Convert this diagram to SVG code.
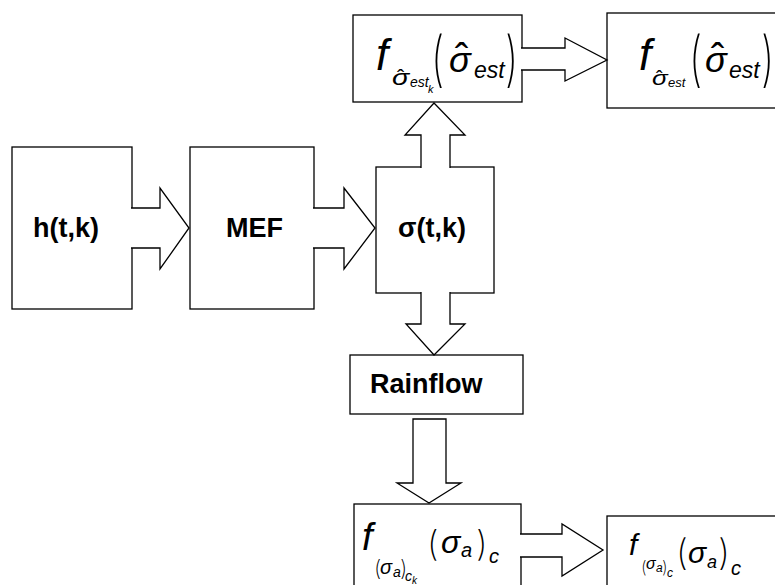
<svg xmlns="http://www.w3.org/2000/svg" width="775" height="585" viewBox="0 0 775 585">
  <style>
    .box { fill: #fff; stroke: #000; stroke-width: 1.3; }
    .arw { fill: #fff; stroke: #000; stroke-width: 1.3; stroke-linejoin: miter; }
    .lbl { font-family: "Liberation Sans", Arial, sans-serif; font-weight: bold; font-size: 27px; fill: #000; }
    .m { font-family: "Liberation Sans", Arial, sans-serif; font-style: italic; fill: #000; }
    .p { font-family: "Liberation Sans", Arial, sans-serif; fill: #000; }
    .br { font-family: Inter, "Liberation Sans", sans-serif; font-weight: 200; fill: #000; }
  </style>
  <rect width="775" height="585" fill="#fff"/>

  <!-- blocks -->
  <g id="node-h">
    <rect class="box" x="12" y="147" width="120" height="162"/>
    <text class="lbl" x="33" y="237">h(t,k)</text>
  </g>
  <g id="node-mef">
    <rect class="box" x="190" y="147" width="124" height="162"/>
    <text class="lbl" x="226" y="237">MEF</text>
  </g>
  <g id="node-sigma">
    <rect class="box" x="376" y="167" width="118" height="126"/>
    <text class="lbl" x="398" y="237">σ(t,k)</text>
  </g>
  <g id="node-rainflow">
    <rect class="box" x="350" y="355" width="173" height="59"/>
    <text class="lbl" x="370" y="393">Rainflow</text>
  </g>
  <g id="node-fest-k">
    <rect class="box" x="353" y="15" width="169" height="87"/>
    <text class="m" x="376" y="70" font-size="44">f</text>
    <text class="m" transform="translate(392,85) scale(1.3,1)" font-size="22">σ</text>
    <text class="p" x="397" y="85" font-size="22">ˆ</text>
    <text class="m" x="410" y="87" font-size="14">est</text>
    <text class="m" x="428" y="93" font-size="11">k</text>
    <text class="br" transform="translate(431,80) scale(1,1.5)" font-size="40">(</text>
    <text class="m" x="449" y="72" font-size="36">σ</text>
    <text class="p" x="455" y="72" font-size="40">ˆ</text>
    <text class="m" x="474" y="78" font-size="23">est</text>
    <text class="br" transform="translate(505,80) scale(1,1.5)" font-size="40">)</text>
  </g>
  <g id="node-fest">
    <rect class="box" x="607" y="13" width="190" height="95"/>
    <text class="m" x="639" y="70" font-size="44">f</text>
    <text class="m" transform="translate(652,85) scale(1.3,1)" font-size="20">σ</text>
    <text class="p" x="656" y="85" font-size="20">ˆ</text>
    <text class="m" x="668" y="87" font-size="13">est</text>
    <text class="br" transform="translate(689,80) scale(1,1.5)" font-size="40">(</text>
    <text class="m" x="705" y="72" font-size="36">σ</text>
    <text class="p" x="711" y="72" font-size="40">ˆ</text>
    <text class="m" x="729" y="78" font-size="23">est</text>
    <text class="br" transform="translate(761,80) scale(1,1.5)" font-size="40">)</text>
  </g>
  <g id="node-fsa-k">
    <rect class="box" x="354" y="504" width="167" height="100"/>
    <text class="m" x="362" y="550" font-size="38">f</text>
    <text class="br" x="374" y="576" font-size="22">(</text>
    <text class="m" x="380" y="574" font-size="20">σ</text>
    <text class="m" x="393" y="577" font-size="14">a</text>
    <text class="br" x="400" y="576" font-size="22">)</text>
    <text class="m" x="405" y="581" font-size="14">c</text>
    <text class="m" x="412" y="584" font-size="10">k</text>
    <text class="br" x="427" y="556" font-size="35">(</text>
    <text class="m" x="441" y="553" font-size="32">σ</text>
    <text class="m" x="461" y="557" font-size="20">a</text>
    <text class="br" x="476" y="556" font-size="35">)</text>
    <text class="m" x="489" y="563" font-size="20">c</text>
  </g>
  <g id="node-fsa">
    <rect class="box" x="607" y="516" width="190" height="90"/>
    <text class="m" x="629" y="555" font-size="30">f</text>
    <text class="br" x="641" y="573" font-size="17">(</text>
    <text class="m" x="646" y="569" font-size="16">σ</text>
    <text class="m" x="656" y="572" font-size="12">a</text>
    <text class="br" x="662" y="573" font-size="17">)</text>
    <text class="m" x="667" y="577" font-size="12">c</text>
    <text class="br" x="676" y="565" font-size="36">(</text>
    <text class="m" x="688" y="563" font-size="30">σ</text>
    <text class="m" x="707" y="568" font-size="18">a</text>
    <text class="br" x="718" y="565" font-size="36">)</text>
    <text class="m" x="731" y="575" font-size="20">c</text>
  </g>

  <!-- block arrows; open outlines so the white fill merges them into the boxes -->
  <g id="connectors">
    <path class="arw" d="M131 208 H160 V188 L189 228 L160 269 V248 H131"/>
    <path class="arw" d="M313 208 H344 V188 L375 228 L344 269 V248 H313"/>
    <path class="arw" d="M421 168 V135 H405 L434 103 L465 135 H450 V168"/>
    <path class="arw" d="M421 292 V324 H406 L434 355 L465 324 H450 V292"/>
    <path class="arw" d="M413 419 H446 V483 H461 L429 503 L397 483 H413 Z"/>
    <path class="arw" d="M521 48 H565 V38 L607 60 L565 81 V70 H521"/>
    <path class="arw" d="M520 534 H562 V524 L603 550 L562 576 V557 H520"/>
  </g>
</svg>
